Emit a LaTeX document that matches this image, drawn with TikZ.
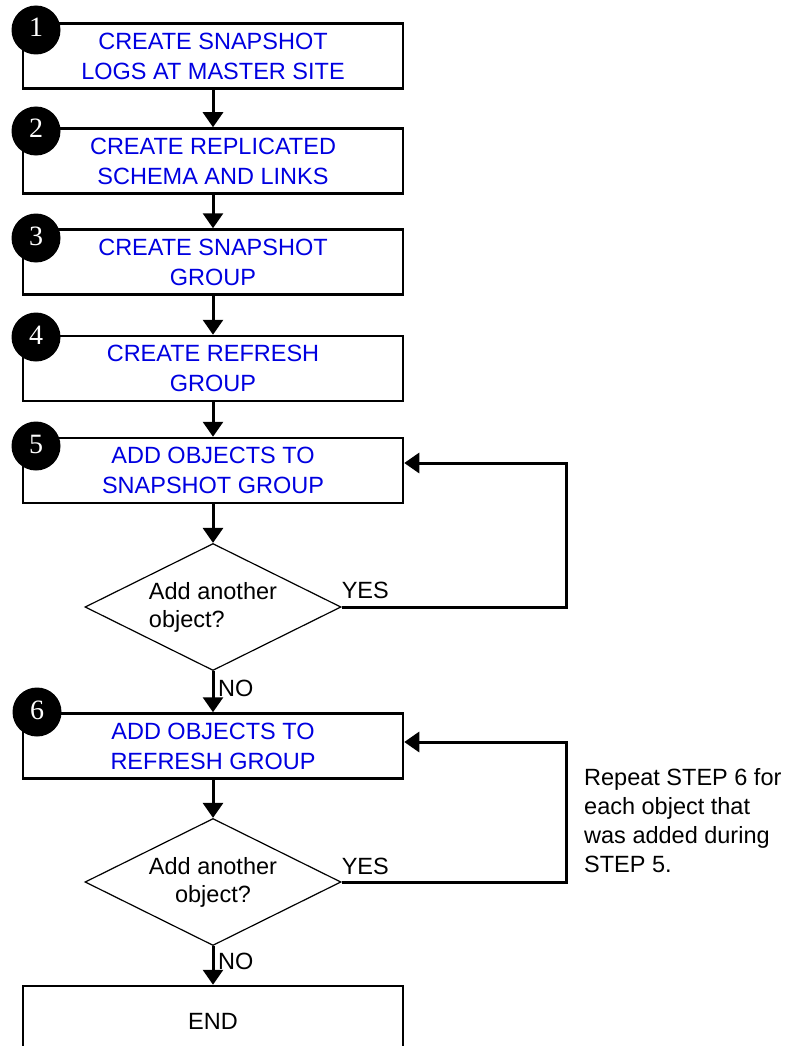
\documentclass[tikz,border=0pt]{standalone}
\usepackage{fontspec}
\setmainfont{Liberation Sans}
\newfontfamily\numfont{Liberation Serif}
\usetikzlibrary{arrows.meta,shapes.geometric}
\definecolor{stepblue}{RGB}{0,0,224}
\begin{document}
\begin{tikzpicture}[x=1pt,y=-1pt,
  txt/.style={font=\fontsize{23.5}{30}\selectfont},
  stepbox/.style={draw, line width=2.5pt, minimum width=380pt, minimum height=65pt,
    inner sep=0pt, align=center, text=stepblue, txt},
  endbox/.style={draw, line width=2.5pt, minimum width=380pt, minimum height=70pt,
    inner sep=0pt, txt},
  decision/.style={diamond, aspect=2, draw, line width=1.2pt, minimum width=256pt,
    minimum height=127pt, inner sep=0pt, font=\fontsize{23.5}{28}\selectfont},
  stepnum/.style={circle, fill=black, text=white, minimum size=49pt, inner sep=0pt,
    font=\numfont\fontsize{28}{28}\selectfont, text height=19pt, text depth=5pt},
  flow/.style={line width=3pt, -{Triangle[width=20pt,length=15pt]}},
  lbl/.style={txt, inner sep=0pt, anchor=base west}
]
\useasboundingbox (0,0) rectangle (794,1046);

% process steps
\node[stepbox] (b1) at (213,56)    {CREATE SNAPSHOT\\LOGS AT MASTER SITE};
\node[stepbox] (b2) at (213,161)   {CREATE REPLICATED\\SCHEMA AND LINKS};
\node[stepbox] (b3) at (213,262)   {CREATE SNAPSHOT\\GROUP};
\node[stepbox] (b4) at (213,368.5) {CREATE REFRESH\\GROUP};
\node[stepbox] (b5) at (213,470.5) {ADD OBJECTS TO\\SNAPSHOT GROUP};
\node[decision, align=left] (d1) at (213,607) {Add another\\object?};
\node[stepbox] (b6) at (213,746)   {ADD OBJECTS TO\\REFRESH GROUP};
\node[decision, align=center] (d2) at (213,882) {Add another\\object?};
\node[endbox] (e) at (213,1021) {END};

% step numbers
\node[stepnum] (n1) at (36,30)  {1};
\node[stepnum] (n2) at (36,131) {2};
\node[stepnum] (n3) at (36,238) {3};
\node[stepnum] (n4) at (36,337) {4};
\node[stepnum] (n5) at (36,446) {5};
\node[stepnum] (n6) at (37,712) {6};

% main flow
\draw[flow] (b1) -- (b2);
\draw[flow] (b2) -- (b3);
\draw[flow] (b3) -- (b4);
\draw[flow] (b4) -- (b5);
\draw[flow] (b5) -- (d1);
\draw[flow] (d1) -- (b6);
\draw[flow] (b6) -- (d2);
\draw[flow] (d2) -- (e);

% loops back for another object
\coordinate (r1) at (566,463);
\coordinate (r2) at (566,742);
\draw[flow] (d1.east) -| (r1) -- (r1 -| b5.east);
\draw[flow] (d2.east) -| (r2) -- (r2 -| b6.east);

% branch labels
\node[lbl] (yes1) at ([yshift=9pt]d1.east) {YES};
\node[lbl] (yes2) at ([yshift=8pt]d2.east) {YES};
\node[lbl] (no1) at ([xshift=5pt,yshift=-25pt]d1.south) {NO};
\node[lbl] (no2) at ([xshift=5pt,yshift=-23pt]d2.south) {NO};

% side note
\node[font=\fontsize{23.5}{29}\selectfont, align=left, anchor=north west, inner sep=0pt]
  (note) at (584,768) {Repeat STEP 6 for\\each object that\\was added during\\STEP 5.};
\end{tikzpicture}
\end{document}
